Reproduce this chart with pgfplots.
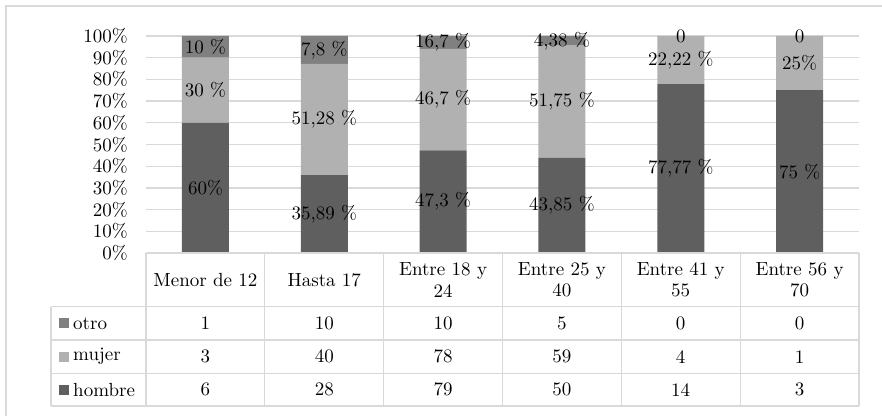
\documentclass[border=0pt]{standalone}
\usepackage{fontspec}
\setmainfont{lmroman10-regular.otf}
\usepackage{pgfplots}
\pgfplotsset{compat=1.18}
\usepackage{pgfplotstable}

\definecolor{hombre}{HTML}{5F5F5F}
\definecolor{mujer}{HTML}{B1B1B1}
\definecolor{otro}{HTML}{808080}
\definecolor{rulegray}{HTML}{D9D9D9}

\newcommand{\chartfont}{\fontsize{19}{21.7}\selectfont}

% share of each group per age range, in percent (from the counts below)
\pgfplotstableread{
x hombre mujer otro
0 60.00 30.00 10.00
1 35.90 51.28 12.82
2 47.31 46.71  5.99
3 43.86 51.75  4.39
4 77.78 22.22  0.00
5 75.00 25.00  0.00
}\shares

\begin{document}
\begin{tikzpicture}[x=1pt,y=1pt]
\useasboundingbox (0,0) rectangle (882,415);

% chart frame
\draw[rulegray, line width=1.3pt] (6,-20) -- (6,409) -- (900,409);

\begin{axis}[
  at={(146pt,162pt)}, anchor=south west,
  scale only axis, width=713pt, height=217pt,
  ybar stacked, bar width=47pt,
  xmin=-0.5, xmax=5.5, ymin=0, ymax=100,
  xtick=\empty,
  ytick={0,10,...,100},
  /pgf/number format/assume math mode=true,
  yticklabel={\pgfmathprintnumber{\tick}\%},
  yticklabel style={anchor=east, inner sep=0pt, xshift=-18pt, font=\chartfont},
  tick style={draw=none},
  axis line style={draw=none},
  ymajorgrids,
  grid style={rulegray, line width=1.3pt},
  clip=false,
]
\addplot[fill=hombre, draw=none] table[x=x, y=hombre] {\shares};
\addplot[fill=mujer,  draw=none] table[x=x, y=mujer]  {\shares};
\addplot[fill=otro,   draw=none] table[x=x, y=otro]   {\shares};
\end{axis}

% segment labels, centred in each segment
\begin{axis}[
  at={(146pt,162pt)}, anchor=south west,
  scale only axis, width=713pt, height=217pt,
  xmin=-0.5, xmax=5.5, ymin=0, ymax=100,
  hide axis, clip=false,
]
\addplot[draw=none, mark=none, nodes near coords, point meta=explicit symbolic,
  every node near coord/.style={anchor=center, inner sep=0pt, font=\chartfont, text=black}]
  coordinates {
  (0,30.00) [60\%]     (0,75.00) [30 \%]     (0,95.00) [10 \%]
  (1,17.95) [35,89 \%] (1,61.54) [51,28 \%]  (1,93.59) [7,8 \%]
  (2,23.65) [47,3 \%]  (2,70.66) [46,7 \%]   (2,97.01) [16,7 \%]
  (3,21.93) [43,85 \%] (3,69.74) [51,75 \%]  (3,97.81) [4,38 \%]
  (4,38.89) [77,77 \%] (4,88.89) [22,22 \%]  (4,100.00) [0]
  (5,37.50) [75 \%]    (5,87.50) [25\%]      (5,100.00) [0]
  };
\end{axis}

% data table under the chart
\begin{scope}[rulegray, line width=1.3pt]
  \draw (146,162) -- (859,162);
  \draw (51,108.3) -- (859,108.3);
  \draw (51,75) -- (859,75);
  \draw (51,41.7) -- (859,41.7);
  \draw (51,9) -- (859,9);
  \draw (51,108.3) -- (51,9);
  \foreach \k in {0,...,6} {
    \draw ({146+118.83*\k},162) -- ({146+118.83*\k},9);
  }
\end{scope}

\foreach \lab [count=\i from 0] in {{Menor de 12},{Hasta 17},{Entre 18 y\\24},{Entre 25 y\\40},{Entre 41 y\\55},{Entre 56 y\\70}} {
  \node[align=center, font=\chartfont, inner sep=0pt] at ({146+118.83*(\i+0.5)},135.2) {\lab};
}

\foreach \v [count=\i from 0] in {1,10,10,5,0,0}
  \node[font=\chartfont, inner sep=0pt] at ({146+118.83*(\i+0.5)},91.7) {\v};
\foreach \v [count=\i from 0] in {3,40,78,59,4,1}
  \node[font=\chartfont, inner sep=0pt] at ({146+118.83*(\i+0.5)},58.3) {\v};
\foreach \v [count=\i from 0] in {6,28,79,50,14,3}
  \node[font=\chartfont, inner sep=0pt] at ({146+118.83*(\i+0.5)},25.3) {\v};

% series keys in the first column
\fill[otro]   (59,86.7) rectangle (69,96.7);
\fill[mujer]  (59,53.3) rectangle (69,63.3);
\fill[hombre] (59,20.3) rectangle (69,30.3);
\node[anchor=west, font=\chartfont, inner sep=0pt] at (73,91.7) {otro};
\node[anchor=west, font=\chartfont, inner sep=0pt] at (73,58.3) {mujer};
\node[anchor=west, font=\chartfont, inner sep=0pt] at (73,25.3) {hombre};
\end{tikzpicture}
\end{document}
